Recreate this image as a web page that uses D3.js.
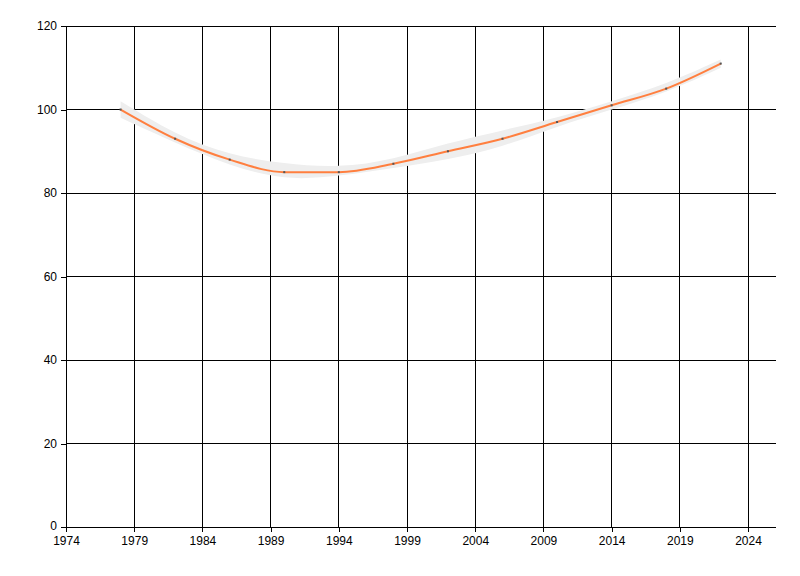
<!DOCTYPE html>
<html>
<head>
<meta charset="utf-8">
<script src="https://cdn.jsdelivr.net/npm/d3@7"></script>
<style>
  body { margin: 0; background: #fff; }
  svg text { font-family: "Liberation Sans", Arial, sans-serif; font-size: 12px; fill: #000; }
</style>
</head>
<body>
<svg width="800" height="576"></svg>
<script>
// data
const years = [1978, 1982, 1986, 1990, 1994, 1998, 2002, 2006, 2010, 2014, 2018, 2022];
const values = [100, 93, 88, 85, 85, 87, 90, 93, 97, 101, 105, 111];
const lower = [98, 92, 86.5, 83, 84, 86, 88, 91, 96, 100, 104, 110];
const upper = [102, 94, 89, 87, 86, 88, 92, 95, 98, 102, 106, 112];
const xTicks = [1974, 1979, 1984, 1989, 1994, 1999, 2004, 2009, 2014, 2019, 2024];
const yTicks = [0, 20, 40, 60, 80, 100, 120];

const svg = d3.select('svg');
const mLeft = 66, mRight = 776, mTop = 26, mBottom = 527;

const x = d3.scaleLinear().domain([1974, 2026.05]).range([mLeft, mRight]);
const y = d3.scaleLinear().domain([0, 120]).range([mBottom, mTop]);

// grid
const grid = svg.append('g').attr('stroke', '#000').attr('stroke-width', 1).attr('shape-rendering', 'crispEdges');
grid.selectAll('.v').data(xTicks.slice(1)).enter().append('line')
  .attr('x1', d => x(d)).attr('x2', d => x(d))
  .attr('y1', mTop).attr('y2', mBottom);
grid.selectAll('.h').data(yTicks.slice(1)).enter().append('line')
  .attr('x1', mLeft).attr('x2', mRight)
  .attr('y1', d => y(d)).attr('y2', d => y(d));

// band + line
const pts = years.map((yr, i) => ({ yr, v: values[i], lo: lower[i], hi: upper[i] }));
svg.append('path')
  .datum(pts)
  .attr('fill', '#eeeeee')
  .attr('d', d3.area().curve(d3.curveBasis)
    .x(d => x(d.yr)).y0(d => y(d.lo)).y1(d => y(d.hi)));

svg.append('path')
  .datum(pts)
  .attr('fill', 'none')
  .attr('stroke', '#ff7f3f')
  .attr('stroke-width', 2)
  .attr('d', d3.line().curve(d3.curveMonotoneX).x(d => x(d.yr)).y(d => y(d.v)));

svg.selectAll('.pt').data(pts).enter().append('rect')
  .attr('x', d => x(d.yr) - 1).attr('y', d => y(d.v) - 1)
  .attr('width', 2).attr('height', 2)
  .attr('fill', '#555');

// axes
const xAxis = svg.append('g')
  .attr('transform', `translate(0,${mBottom})`)
  .call(d3.axisBottom(x).tickValues(xTicks).tickFormat(d3.format('d')).tickSize(5).tickPadding(4));
const yAxis = svg.append('g')
  .attr('transform', `translate(${mLeft},0)`)
  .call(d3.axisLeft(y).tickValues(yTicks).tickSize(5).tickPadding(4));
[xAxis, yAxis].forEach(g => {
  g.selectAll('path, line').attr('stroke', '#000').attr('shape-rendering', 'crispEdges');
  g.select('.domain').attr('d', g === xAxis ? `M${mLeft},0H${mRight}` : `M0,${mTop}V${mBottom}`);
  g.selectAll('text').attr('fill', '#000').style('font-size', '12px');
});
// keep the "0" label clear of the first year label
yAxis.selectAll('.tick text').filter(d => d === 0).attr('dy', '0.2em');
</script>
</body>
</html>
